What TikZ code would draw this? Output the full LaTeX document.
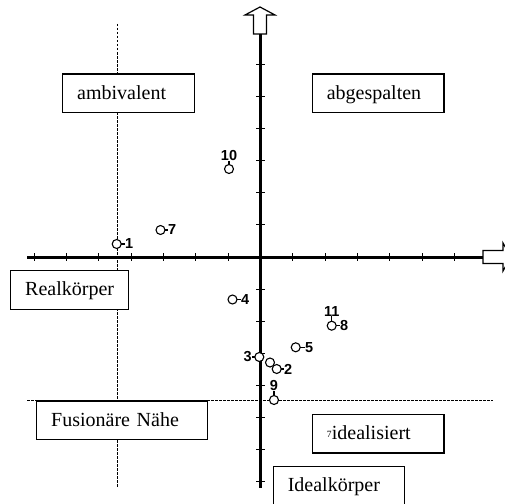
\documentclass[tikz,border=0pt]{standalone}
\usepackage{fontspec}
\setmainfont{Liberation Serif}
\newfontfamily\lblfont{Liberation Sans}
\begin{document}
\begin{tikzpicture}[x=1pt,y=-1pt,
  axis/.style={line width=3pt},
  tickmark/.style={line width=1pt},
  guide/.style={line width=0.8pt, dash pattern=on 2.5pt off 1.5pt},
  arrowbox/.style={draw, line width=1.2pt, fill=white, line join=miter},
  box/.style={draw, line width=1.2pt, fill=white, anchor=north west,
    inner xsep=14.5pt, inner ysep=0pt, outer sep=0pt,
    text height=25pt, text depth=13.7pt, align=left,
    font=\fontsize{20}{24}\selectfont},
  dot/.style={circle, draw, line width=1.1pt, fill=white, minimum size=9pt,
    inner sep=0pt, outer sep=0pt},
  lbl/.style={inner sep=0pt, outer sep=0pt,
    font=\lblfont\bfseries\fontsize{14.5}{15}\selectfont},
  lead/.style={line width=1.1pt}]
\useasboundingbox (0,0) rectangle (505,503);
\clip (0,0) rectangle (505,503);

% dashed guide lines
\draw[guide] (117.3,24) -- (117.3,488);
\draw[guide] (27,400) -- (493,400);

% axes with tick marks
\draw[axis] (260.5,34) -- (260.5,488);
\draw[axis] (27,257) -- (483,257);
\foreach \k in {-6,...,-1,1,2,...,7}
  \draw[tickmark] (256,{257+\k*32.1}) -- (265,{257+\k*32.1});
\foreach \k in {-7,...,-1,1,2,...,6}
  \draw[tickmark] ({260.5+\k*32.35},253) -- ({260.5+\k*32.35},261);

% hollow block arrows at the axis ends
\draw[arrowbox] (253.5,34) -- (253.5,15) -- (245,15) -- (260,7) -- (275,15)
  -- (266.5,15) -- (266.5,34) -- cycle;
\draw[arrowbox] (483,250.5) -- (503,250.5) -- (503,243) -- (511,257) -- (503,271)
  -- (503,263.5) -- (483,263.5) -- cycle;

% quadrant and axis captions
\node[box, text width=102.6pt] (amb) at (62.7,74) {ambivalent};
\node[box, text width=102.7pt] (abg) at (312.3,74) {abgespalten};
\node[box, text width=89pt] (real) at (10.7,270.7) {Realkörper};
\node[box, text width=141.6pt] (fus) at (36.7,401) {Fusionäre Nähe};
\node[box, text width=102.7pt] (ideal) at (312.3,414.3)
  {\raisebox{1.5pt}{\fontsize{9.5}{9.5}\selectfont 7}\hspace{0.3pt}idealisiert};
\node[box, text width=102pt] (idk) at (273.3,466.7) {Idealkörper};

% data points
\node[dot] (c1)  at (116.7,244)   {};
\node[dot] (c7)  at (160.5,230)   {};
\node[dot] (c10) at (229,169)     {};
\node[dot] (c4)  at (232.5,299.5) {};
\node[dot] (c8)  at (331.7,325.7) {};
\node[dot] (c5)  at (295.7,347.3) {};
\node[dot] (c3)  at (259.3,357)   {};
\node[dot] (c6)  at (270,362.5)   {};
\node[dot] (c2)  at (276.7,369)   {};
\node[dot] (c9)  at (274,400)     {};

% point labels with short leaders
\node[lbl, anchor=west] (l1) at ([xshift=4pt]c1.east) {1};
\node[lbl, anchor=west] (l7) at ([xshift=3pt]c7.east) {7};
\node[lbl, anchor=south] (l10) at ([yshift=4pt]c10.north) {10};
\node[lbl, anchor=west] (l4) at ([xshift=4pt]c4.east) {4};
\node[lbl, anchor=west] (l8) at ([xshift=4pt]c8.east) {8};
\node[lbl, anchor=south] (l11) at ([yshift=5pt]c8.north) {11};
\node[lbl, anchor=west] (l5) at ([xshift=5pt]c5.east) {5};
\node[lbl, anchor=east] (l3) at ([xshift=-3pt]c3.west) {3};
\node[lbl, anchor=west] (l2) at ([xshift=3pt]c2.east) {2};
\node[lbl, anchor=south] (l9) at ([yshift=5pt]c9.north) {9};

\draw[lead] (c1.east) -- (l1.west);
\draw[lead] (c7.east) -- (l7.west);
\draw[lead] (c10.north) -- (l10.south);
\draw[lead] (c4.east) -- (l4.west);
\draw[lead] (c8.east) -- (l8.west);
\draw[lead] (c8.north) -- (l11.south);
\draw[lead] (c5.east) -- (l5.west);
\draw[lead] (c3.west) -- (l3.east);
\draw[lead] (c2.east) -- (l2.west);
\draw[lead] (c9.north) -- (l9.south);
\end{tikzpicture}
\end{document}
